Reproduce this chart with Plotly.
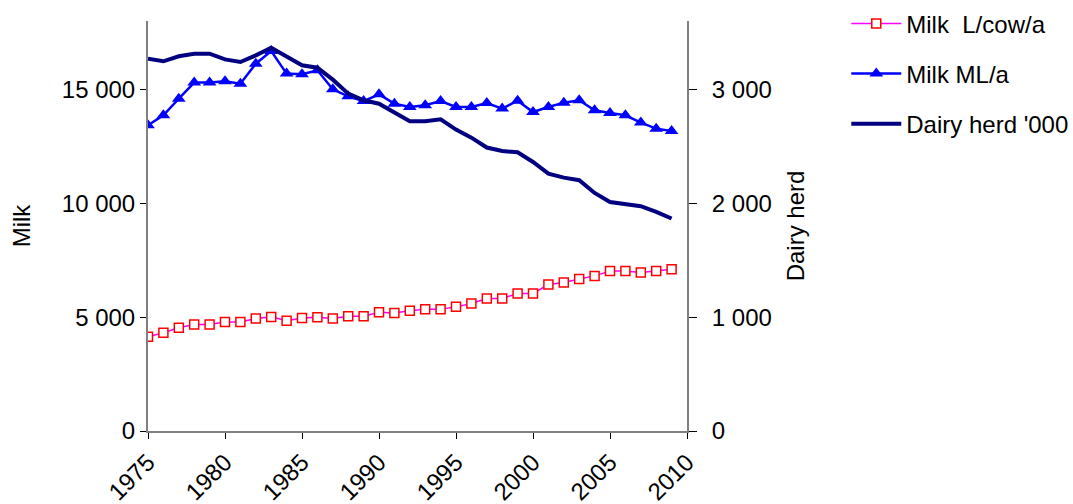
import plotly.graph_objects as go

years = list(range(1975, 2010))

milk_per_cow = [4140, 4310, 4530, 4680, 4680, 4790, 4790, 4940, 5010, 4840,
                4960, 4990, 4940, 5040, 5040, 5210, 5180, 5280, 5340, 5340,
                5450, 5600, 5820, 5820, 6040, 6040, 6430, 6520, 6670, 6810,
                7020, 7020, 6960, 7020, 7100]

milk_ml = [2684, 2772, 2918, 3059, 3059, 3070, 3050, 3225, 3336, 3138,
           3132, 3167, 3000, 2939, 2897, 2956, 2874, 2845, 2860, 2897,
           2845, 2845, 2880, 2831, 2900, 2801, 2845, 2883, 2904, 2816,
           2792, 2772, 2708, 2655, 2634]

dairy_herd = [3269, 3246, 3290, 3313, 3313, 3263, 3240, 3298, 3366, 3284,
              3211, 3190, 3085, 2962, 2904, 2874, 2801, 2719, 2719, 2737,
              2646, 2576, 2489, 2459, 2447, 2362, 2260, 2225, 2202, 2090,
              2011, 1991, 1974, 1924, 1866]

x_ticks = [1975, 1980, 1985, 1990, 1995, 2000, 2005, 2010]
left_ticks = [0, 5000, 10000, 15000]
right_ticks = [0, 1000, 2000, 3000]

FONT = "Liberation Sans, Arial, sans-serif"

fig = go.Figure()
fig.add_trace(go.Scatter(
    x=years, y=milk_per_cow, name="Milk\u00a0 L/cow/a", mode="lines+markers",
    line=dict(color="#FF00FF", width=1.5),
    marker=dict(symbol="square", size=9, color="white",
                line=dict(color="#FF0000", width=1.5)),
    legendgroup="a", yaxis="y"))
fig.add_trace(go.Scatter(
    x=years, y=milk_ml, name="Milk ML/a", mode="lines+markers",
    line=dict(color="#0000FF", width=2.5),
    marker=dict(symbol="triangle-up", size=12, color="#0000FF"),
    legendgroup="b", yaxis="y2"))
fig.add_trace(go.Scatter(
    x=years, y=dairy_herd, name="Dairy herd '000", mode="lines",
    line=dict(color="#000080", width=4),
    legendgroup="c", yaxis="y2"))

fig.update_layout(
    width=1073, height=504,
    margin=dict(l=148, r=386, t=21, b=73, autoexpand=False),
    paper_bgcolor="white", plot_bgcolor="white",
    font=dict(family=FONT, size=24, color="black"),
    separators=". ",
    showlegend=True,
    legend=dict(x=1.2955, y=1.048, xanchor="left", yanchor="top",
                traceorder="grouped", tracegroupgap=16, itemwidth=50,
                font=dict(size=24), bgcolor="rgba(0,0,0,0)"),
    xaxis=dict(range=[1975, 2010], tickvals=x_ticks, ticktext=[str(t) for t in x_ticks],
               tickangle=-45, ticks="outside", ticklen=6, tickcolor="black",
               showline=True, linecolor="#808080", linewidth=1.5,
               showgrid=False, zeroline=False, tickfont=dict(size=24),
               automargin=False),
    yaxis=dict(range=[0, 18000], tickvals=left_ticks, tickformat=",",
               ticks="outside", ticklen=6, tickcolor="black",
               showline=True, linecolor="#808080", linewidth=2,
               showgrid=False, zeroline=False,
               title=dict(text="Milk", standoff=24, font=dict(size=24)),
               tickfont=dict(size=24), automargin=False),
    yaxis2=dict(range=[0, 3600], tickvals=right_ticks, tickformat=",",
                overlaying="y", side="right", anchor="x",
                ticks="outside", ticklen=8, tickcolor="black",
                showline=True, linecolor="#808080", linewidth=2,
                showgrid=False, zeroline=False,
                title=dict(text="Dairy herd", standoff=16, font=dict(size=24)),
                tickfont=dict(size=24), ticklabelstandoff=10, automargin=False),
    yaxis3=dict(range=[0, 3600], tickvals=right_ticks,
                overlaying="y", side="right", anchor="x",
                ticks="inside", ticklen=8, tickcolor="black",
                showticklabels=False, showline=False,
                showgrid=False, zeroline=False, automargin=False),
)

fig.write_html("out.html", config={"displayModeBar": False},
               post_script="document.body.style.margin='0';")
